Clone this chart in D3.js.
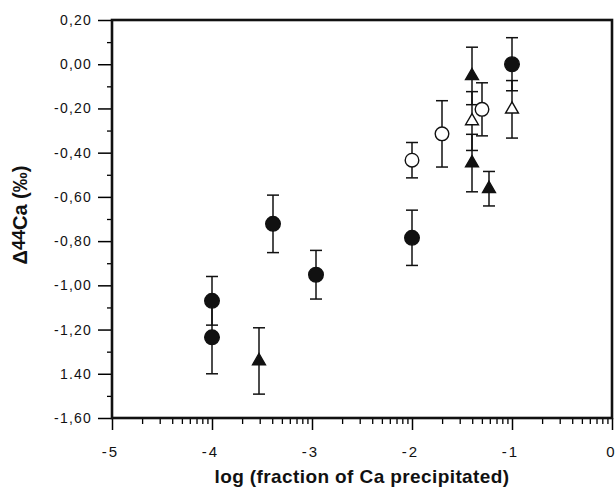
<!DOCTYPE html>
<html>
<head>
<meta charset="utf-8">
<script src="https://cdn.jsdelivr.net/npm/d3@7"></script>
<style>
  body { margin: 0; background: #fff; }
  svg { display: block; font-family: "Liberation Sans", Arial, sans-serif; }
</style>
</head>
<body>
<div id="chart"></div>
<script>
// values
const xTickValues = [-5, -4, -3, -2, -1, 0]
const xTickLabels = ["-5", "-4", "-3", "-2", "-1", "0"]
const yTickValues = [0.2, 0, -0.2, -0.4, -0.6, -0.8, -1.0, -1.2, -1.4, -1.6]
const yTickLabels = ["0,20", "0,00", "-0,20", "-0,40", "-0,60", "-0,80", "-1,00", "-1,20", "1.40", "-1,60"]

const filledCircleX = [-4, -4, -3.39, -2.96, -2, -1]
const filledCircleY = [-1.07, -1.235, -0.722, -0.952, -0.785, 0.0]
const filledCircleErr = [0.11, 0.165, 0.13, 0.11, 0.125, 0.12]

const openCircleX = [-2, -1.7, -1.3]
const openCircleY = [-0.434, -0.315, -0.204]
const openCircleErr = [0.08, 0.15, 0.12]

const filledTriangleX = [-3.53, -1.4, -1.4, -1.23]
const filledTriangleY = [-1.342, -0.053, -0.447, -0.563]
const filledTriangleErr = [0.15, 0.13, 0.13, 0.078]

const openTriangleX = [-1.4, -1]
const openTriangleY = [-0.257, -0.204]
const openTriangleErr = [0.133, 0.13]

const width = 616
const height = 489
const margin = { top: 20, right: 4, bottom: 71, left: 112 }

const svg = d3.select("#chart").append("svg")
    .attr("width", width)
    .attr("height", height)

const x = d3.scaleLinear().domain([-5, 0]).range([margin.left, width - margin.right])
const y = d3.scaleLinear().domain([-1.6, 0.2]).range([height - margin.bottom, margin.top])

// minor ticks
const yMinor = d3.range(-15, 2, 2).map(d => d / 10)
const xMinor = []
for (let n = -5; n < 0; n++) {
    for (let k = 2; k <= 9; k++) xMinor.push(n + Math.log10(k))
}

svg.append("g")
    .attr("transform", `translate(${margin.left},0)`)
    .call(d3.axisLeft(y).tickValues(yMinor).tickSize(5).tickFormat("").tickSizeOuter(0))
    .call(g => g.select(".domain").remove())
    .call(g => g.selectAll("line").attr("stroke-width", 1.3))

svg.append("g")
    .attr("transform", `translate(0,${height - margin.bottom})`)
    .call(d3.axisBottom(x).tickValues(xMinor).tickSize(6).tickFormat("").tickSizeOuter(0))
    .call(g => g.select(".domain").remove())
    .call(g => g.selectAll("line").attr("stroke-width", 1.3))

const yAxis = svg.append("g")
    .attr("transform", `translate(${margin.left},0)`)
    .call(d3.axisLeft(y).tickValues(yTickValues).tickSize(14).tickPadding(6).tickSizeOuter(0)
        .tickFormat((d, i) => yTickLabels[i]))
yAxis.select(".domain").remove()
yAxis.selectAll("line").attr("stroke-width", 1.5)
yAxis.selectAll("text")
    .attr("font-size", 14)
    .attr("letter-spacing", 1.2)
    .attr("fill", "#111")

const xAxis = svg.append("g")
    .attr("transform", `translate(0,${height - margin.bottom})`)
    .call(d3.axisBottom(x).tickValues(xTickValues).tickSize(12).tickPadding(16).tickSizeOuter(0)
        .tickFormat((d, i) => xTickLabels[i]))
xAxis.select(".domain").remove()
xAxis.selectAll("line").attr("stroke-width", 1.5)
xAxis.selectAll("text")
    .attr("font-size", 15)
    .attr("letter-spacing", 2)
    .attr("dx", -2)
    .attr("fill", "#111")
// last label sits against the right edge
xAxis.selectAll("text").filter(d => d === 0)
    .attr("letter-spacing", 0)
    .attr("dx", -2)

// frame
svg.append("rect")
    .attr("x", x(-5))
    .attr("y", y(0.2))
    .attr("width", x(0) - x(-5))
    .attr("height", y(-1.6) - y(0.2))
    .attr("fill", "none")
    .attr("stroke", "#111")
    .attr("stroke-width", 2.6)

function makeSeries(xs, ys, errs) {
    return xs.map((d, i) => ({ x: d, y: ys[i], e: errs[i] }))
}

const series = [
    { data: makeSeries(filledCircleX, filledCircleY, filledCircleErr), shape: "circle", fill: "#111" },
    { data: makeSeries(openCircleX, openCircleY, openCircleErr), shape: "circle", fill: "#fff" },
    { data: makeSeries(filledTriangleX, filledTriangleY, filledTriangleErr), shape: "triangle", fill: "#111" },
    { data: makeSeries(openTriangleX, openTriangleY, openTriangleErr), shape: "triangle", fill: "#fff" }
]

const capW = 6
const bars = svg.append("g").attr("stroke", "#111").attr("stroke-width", 1.5)
series.forEach(s => {
    s.data.forEach(d => {
        bars.append("line").attr("x1", x(d.x)).attr("x2", x(d.x)).attr("y1", y(d.y + d.e)).attr("y2", y(d.y - d.e))
        bars.append("line").attr("x1", x(d.x) - capW).attr("x2", x(d.x) + capW).attr("y1", y(d.y + d.e)).attr("y2", y(d.y + d.e))
        bars.append("line").attr("x1", x(d.x) - capW).attr("x2", x(d.x) + capW).attr("y1", y(d.y - d.e)).attr("y2", y(d.y - d.e))
    })
})

const marks = svg.append("g")
series.forEach(s => {
    if (s.shape === "circle") {
        marks.selectAll(null)
            .data(s.data)
            .enter()
            .append("circle")
            .attr("cx", d => x(d.x))
            .attr("cy", d => y(d.y))
            .attr("r", s.fill === "#111" ? 7.3 : 6.8)
            .attr("fill", s.fill)
            .attr("stroke", "#111")
            .attr("stroke-width", 1.4)
    } else {
        marks.selectAll(null)
            .data(s.data)
            .enter()
            .append("path")
            .attr("d", d3.symbol().type(d3.symbolTriangle).size(72))
            .attr("transform", d => `translate(${x(d.x)},${y(d.y)})`)
            .attr("fill", s.fill)
            .attr("stroke", "#111")
            .attr("stroke-width", 1.4)
    }
})

// axis titles
svg.append("text")
    .attr("x", 362)
    .attr("y", 483)
    .attr("text-anchor", "middle")
    .attr("font-size", 19)
    .attr("font-weight", "bold")
    .attr("letter-spacing", 0.4)
    .attr("fill", "#111")
    .text("log (fraction of Ca precipitated)")

const yTitle = svg.append("text")
    .attr("transform", "translate(27,215) rotate(-90)")
    .attr("text-anchor", "middle")
    .attr("font-size", 20)
    .attr("font-weight", "bold")
    .attr("fill", "#111")
yTitle.append("tspan").text("Δ")
yTitle.append("tspan").attr("font-size", 18).attr("dy", -2).text("44")
yTitle.append("tspan").attr("dy", 2).text("Ca (‰)")
</script>
</body>
</html>
